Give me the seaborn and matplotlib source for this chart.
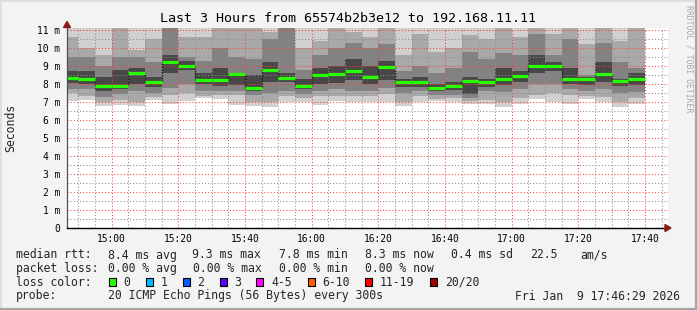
import numpy as np
import pandas as pd
import matplotlib
matplotlib.use("Agg")
import matplotlib.pyplot as plt
import seaborn as sns
from matplotlib.patches import Rectangle, Polygon
from matplotlib.lines import Line2D
from matplotlib.ticker import MultipleLocator, FixedLocator

# ---------------- data (ms) ----------------
slot_start = pd.date_range("2026-01-09 14:45", periods=35, freq="5min")

median = [8.35, 8.28, 7.89, 7.89, 8.63, 8.13, 9.24, 9.02, 8.22, 8.22, 8.56, 7.78,
          8.80, 8.33, 7.89, 8.50, 8.57, 8.72, 8.41, 8.94, 8.09, 8.09, 7.78, 7.89,
          8.18, 8.09, 8.28, 8.44, 9.00, 9.00, 8.28, 8.28, 8.57, 8.18, 8.28]

# smoke bands (outer -> inner): upper and lower edges
top0 = [11.6, 11.6, 11.6, 11.6, 11.6, 11.6, 11.6, 11.6, 11.6, 11.6, 11.6, 11.6,
        11.6, 11.6, 11.6, 11.6, 11.6, 11.6, 11.6, 11.6, 11.2, 11.6, 11.6, 11.6,
        11.6, 11.6, 11.6, 11.3, 11.6, 11.6, 11.6, 11.3, 11.6, 11.6, 11.6]
top1 = [10.6, 10.0, 9.6, 11.2, 9.9, 10.5, 11.4, 10.6, 10.6, 11.3, 11.2, 11.3,
        10.9, 11.4, 10.0, 10.4, 11.2, 10.9, 10.6, 11.2, 9.6, 10.8, 9.8, 10.0,
        10.7, 10.5, 11.2, 10.6, 11.4, 10.8, 11.2, 10.2, 11.2, 10.4, 11.2]
top2 = [9.5, 9.5, 9.0, 9.5, 9.5, 9.2, 11.3, 9.5, 9.3, 10.0, 9.5, 9.4,
        10.5, 11.2, 8.8, 9.6, 10.0, 10.3, 10.0, 10.2, 8.7, 9.0, 8.6, 8.9,
        9.8, 9.4, 9.7, 9.6, 10.8, 9.6, 10.5, 8.5, 10.3, 9.2, 8.9]
top3 = [8.7, 8.7, 8.4, 8.8, 8.9, 8.4, 9.6, 9.3, 8.6, 8.9, 8.6, 8.5,
        9.2, 8.6, 8.3, 8.9, 9.0, 9.4, 9.0, 9.3, 8.3, 8.4, 8.0, 8.1,
        8.4, 8.3, 8.9, 8.7, 9.6, 9.2, 8.9, 8.4, 9.2, 8.3, 8.6]
bot3 = [8.05, 8.0, 7.6, 7.7, 8.0, 7.85, 8.6, 8.8, 8.0, 7.9, 7.95, 7.6,
        8.1, 8.1, 7.7, 8.0, 8.05, 8.2, 8.0, 8.2, 7.85, 7.85, 7.6, 7.65,
        7.45, 7.85, 7.95, 8.1, 8.6, 8.7, 8.0, 7.95, 8.1, 7.9, 7.95]
bot2 = [7.75, 7.7, 7.3, 7.45, 7.6, 7.5, 7.8, 8.0, 7.6, 7.6, 7.6, 7.4,
        7.5, 7.6, 7.45, 7.6, 7.7, 7.6, 7.6, 7.8, 7.5, 7.6, 7.4, 7.4,
        7.2, 7.6, 7.55, 7.7, 8.0, 8.0, 7.7, 7.6, 7.7, 7.5, 7.55]
bot1 = [7.5, 7.35, 7.0, 7.1, 7.0, 7.3, 7.4, 7.5, 7.35, 7.4, 7.4, 7.0,
        7.0, 7.35, 7.25, 7.35, 7.35, 7.35, 7.35, 7.45, 7.0, 7.35, 7.15, 7.2,
        7.05, 7.1, 7.0, 7.2, 7.4, 7.5, 7.4, 7.35, 7.3, 7.0, 7.2]
bot0 = [7.05, 7.1, 6.8, 6.85, 6.8, 7.1, 6.9, 7.05, 7.2, 7.15, 6.85, 6.76,
        6.75, 7.0, 7.0, 6.85, 7.05, 7.0, 7.0, 7.0, 6.8, 7.0, 7.05, 7.0,
        6.9, 6.9, 6.7, 6.9, 7.15, 7.0, 6.9, 7.15, 7.0, 6.75, 6.9]

y_ticks = [0, 1, 2, 3, 4, 5, 6, 7, 8, 9, 10, 11]
y_labels = ["0", "1 m", "2 m", "3 m", "4 m", "5 m", "6 m", "7 m", "8 m", "9 m", "10 m", "11 m"]
x_labels = ["15:00", "15:20", "15:40", "16:00", "16:20", "16:40", "17:00", "17:20", "17:40"]

title = "Last 3 Hours from 65574b2b3e12 to 192.168.11.11"
rtt_fields = ["8.4 ms avg", "9.3 ms max", "7.8 ms min", "8.3 ms now", "0.4 ms sd", "22.5", "am/s"]
loss_fields = ["0.00 % avg", "0.00 % max", "0.00 % min", "0.00 % now"]
loss_names = ["0", "1", "2", "3", "4-5", "6-10", "11-19", "20/20"]
loss_colors = ["#26ff00", "#00b8ff", "#0059ff", "#5e00ff", "#ff00ff", "#ff5e00", "#ff0000", "#a10000"]
probe_text = "20 ICMP Echo Pings (56 Bytes) every 300s"
date_text = "Fri Jan  9 17:46:29 2026"

# ---------------- figure ----------------
sns.set_style("white")
plt.rcParams["font.family"] = ["DejaVu Sans Mono", "DejaVu Sans"]

W, H = 697, 310
fig = plt.figure(figsize=(W / 100, H / 100), dpi=100, facecolor="#f3f3f3")


def fx(px):
    return px / W


def fy(py):
    return 1 - py / H


AXL, AXR, AXT, AXB = 66.5, 668, 28, 228
ax = fig.add_axes([fx(AXL), fy(AXB), (AXR - AXL) / W, (AXB - AXT) / H])
ax.set_facecolor("white")

base = pd.Timestamp("2026-01-09 14:00")
left = np.array((slot_start - base).total_seconds() / 60.0)
width = 5.0
right = left + width

x0 = 46 + 29 / 60.0
ppm = 66.67 / 20.0
ax.set_xlim(x0, x0 + (AXR - AXL) / ppm)
ax.set_ylim(0, (AXB - AXT) / 18.0)

band_colors = ["#d0d0d0", "#a9a9a9", "#828282", "#484848"]
tops = [top0, top1, top2, top3]
bots = [bot0, bot1, bot2, bot3]
for k in range(4):
    t = np.array(tops[k])
    b = np.array(bots[k])
    ax.bar(left, t - b, bottom=b, width=width, align="edge",
           color=band_colors[k], linewidth=0, zorder=1 + 0.1 * k)

# step connector (dark dotted) via seaborn
step_df = pd.DataFrame({"t": np.append(left, right[-1]),
                        "rtt": np.append(median, median[-1])})
sns.lineplot(data=step_df, x="t", y="rtt", ax=ax, drawstyle="steps-post",
             color="#111111", linestyle=(0, (1, 1)), linewidth=1.0, zorder=3)
ax.hlines(median, left, right, colors="#26ff00", linewidth=2.3, zorder=4,
          capstyle="butt")
ax.set_xlabel("")
ax.set_ylabel("")

# grid / ticks
ax.yaxis.set_major_locator(FixedLocator(y_ticks))
ax.yaxis.set_minor_locator(MultipleLocator(0.5))
ax.set_yticklabels(y_labels)
xt = [60 + 20 * i for i in range(len(x_labels))]
ax.xaxis.set_major_locator(FixedLocator(xt))
ax.xaxis.set_minor_locator(MultipleLocator(5))
ax.set_xticklabels(x_labels)

ax.set_axisbelow(False)
ax.grid(which="major", color=(1.0, 0.25, 0.25, 0.32), linestyle=(0, (1, 2)), linewidth=0.75)
ax.grid(which="minor", color=(0.55, 0.55, 0.55, 0.35), linestyle=(0, (1, 2)), linewidth=0.75)
ax.tick_params(axis="both", which="major", direction="out", length=2.2, width=0.8,
               color="#eba0a0", labelsize=6.9, labelcolor="#000000")
ax.tick_params(axis="both", which="minor", direction="out", length=1.5, width=0.6,
               color="#c0c0c0")
ax.tick_params(axis="y", which="major", pad=2.6)
ax.tick_params(axis="x", which="major", pad=2.4)

for s in ["top", "right"]:
    ax.spines[s].set_visible(False)
ax.spines["left"].set_color("#505050")
ax.spines["left"].set_linewidth(0.9)
ax.spines["bottom"].set_color("#000000")
ax.spines["bottom"].set_linewidth(1.0)
ax.spines["left"].set_zorder(6)
ax.spines["bottom"].set_zorder(6)

# arrows
arrow_c = "#8b1a1a"
fig.patches.append(Polygon([(fx(63.5), fy(27.5)), (fx(70.5), fy(27.5)), (fx(67), fy(21.5))],
                           closed=True, transform=fig.transFigure, color=arrow_c, zorder=10))
fig.patches.append(Polygon([(fx(665), fy(224.5)), (fx(665), fy(231.5)), (fx(671), fy(228))],
                           closed=True, transform=fig.transFigure, color=arrow_c, zorder=10))

# texts
fig.text(fx(348), fy(19), title, ha="center", va="center", fontsize=9.6, color="#000000")
fig.text(fx(10.5), fy(128), "Seconds", rotation=90, ha="center", va="center", fontsize=8.3)
fig.text(fx(688.5), fy(5), "RRDTOOL / TOBI OETIKER", rotation=-90, ha="center", va="top",
         fontsize=5.9, color="#a8a8a8")

fs = 8.3
y1, y2, y3, y4 = 255, 268.5, 282, 296
fig.text(fx(16), fy(y1), "median rtt:", ha="left", va="center", fontsize=fs)
for xp, s in zip([107.6, 192.4, 279, 365, 451, 530, 580], rtt_fields):
    fig.text(fx(xp), fy(y1), s, ha="left", va="center", fontsize=fs)
fig.text(fx(16), fy(y2), "packet loss:", ha="left", va="center", fontsize=fs)
for xp, s in zip([107.6, 193.3, 279, 365], loss_fields):
    fig.text(fx(xp), fy(y2), s, ha="left", va="center", fontsize=fs)
fig.text(fx(16), fy(y3), "loss color:", ha="left", va="center", fontsize=fs)
box_x = [109, 146, 182.5, 219.6, 256.4, 307.6, 365, 430]
lab_x = [123.5, 160.4, 197, 234, 271, 321.8, 380, 445]
for bx, lx, name, col in zip(box_x, lab_x, loss_names, loss_colors):
    fig.patches.append(Rectangle((fx(bx), fy(y3 + 4)), 7 / W, 8 / H, transform=fig.transFigure,
                                 facecolor=col, edgecolor="#000000", linewidth=0.8, zorder=5))
    fig.text(fx(lx), fy(y3), name, ha="left", va="center", fontsize=fs)
fig.text(fx(16), fy(y4), "probe:", ha="left", va="center", fontsize=fs)
fig.text(fx(107.6), fy(y4), probe_text, ha="left", va="center", fontsize=fs)
fig.text(fx(680), fy(y4), date_text, ha="right", va="center", fontsize=fs)

# frame
fig.lines.append(Line2D([0, 1], [fy(0.5), fy(0.5)], transform=fig.transFigure, color="#dcdcdc", lw=1.2))
fig.lines.append(Line2D([fx(0.5), fx(0.5)], [0, 1], transform=fig.transFigure, color="#dcdcdc", lw=1.2))
fig.lines.append(Line2D([fx(696), fx(696)], [0, 1], transform=fig.transFigure, color="#a6a6a6", lw=1.6))
fig.lines.append(Line2D([0, 1], [fy(309), fy(309)], transform=fig.transFigure, color="#a6a6a6", lw=1.6))

fig.savefig("out.png", dpi=100, facecolor=fig.get_facecolor())
